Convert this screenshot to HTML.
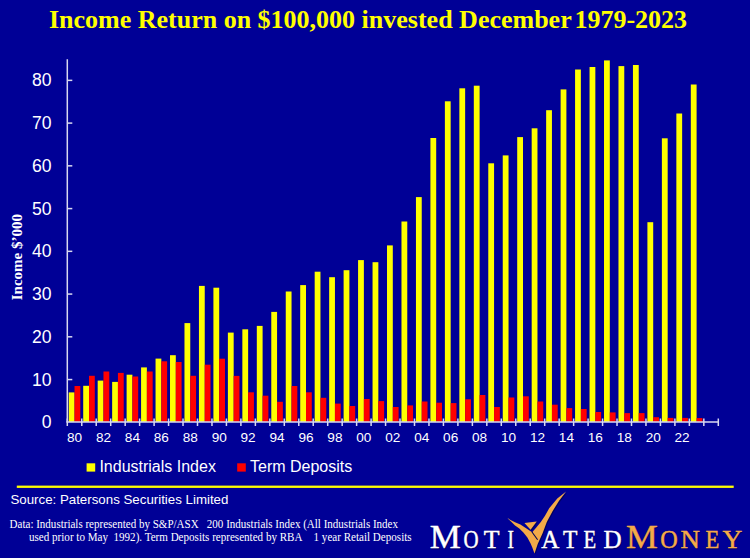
<!DOCTYPE html>
<html><head><meta charset="utf-8"><style>
html,body{margin:0;padding:0;background:#000096;}
svg{display:block;}
</style></head><body>
<svg width="750" height="558" viewBox="0 0 750 558">
<rect x="0" y="0" width="750" height="558" fill="#000096"/>
<text x="48.9" y="28.4" font-family="Liberation Serif" font-weight="bold" font-size="26" fill="#ffff00">Income Return on $100,000 invested December<tspan dx="-3.3"> 1979-2023</tspan></text>
<text transform="translate(22.2,300.3) rotate(-90)" x="0" y="0" font-family="Liberation Serif" font-weight="bold" font-size="15" fill="#ffffff">Income $&#8217;000</text>
<rect x="68.75" y="392.40" width="5.79" height="29.50" fill="#ffff00"/><rect x="74.53" y="386.00" width="5.79" height="35.90" fill="#ff0000"/><rect x="83.21" y="385.80" width="5.79" height="36.10" fill="#ffff00"/><rect x="89.00" y="375.80" width="5.79" height="46.10" fill="#ff0000"/><rect x="97.68" y="380.60" width="5.79" height="41.30" fill="#ffff00"/><rect x="103.47" y="371.50" width="5.79" height="50.40" fill="#ff0000"/><rect x="112.15" y="381.90" width="5.79" height="40.00" fill="#ffff00"/><rect x="117.93" y="372.90" width="5.79" height="49.00" fill="#ff0000"/><rect x="126.61" y="374.70" width="5.79" height="47.20" fill="#ffff00"/><rect x="132.40" y="376.50" width="5.79" height="45.40" fill="#ff0000"/><rect x="141.08" y="367.40" width="5.79" height="54.50" fill="#ffff00"/><rect x="146.87" y="371.50" width="5.79" height="50.40" fill="#ff0000"/><rect x="155.55" y="358.60" width="5.79" height="63.30" fill="#ffff00"/><rect x="161.33" y="361.30" width="5.79" height="60.60" fill="#ff0000"/><rect x="170.01" y="355.20" width="5.79" height="66.70" fill="#ffff00"/><rect x="175.80" y="362.00" width="5.79" height="59.90" fill="#ff0000"/><rect x="184.48" y="323.10" width="5.79" height="98.80" fill="#ffff00"/><rect x="190.27" y="375.80" width="5.79" height="46.10" fill="#ff0000"/><rect x="198.95" y="285.90" width="5.79" height="136.00" fill="#ffff00"/><rect x="204.73" y="364.70" width="5.79" height="57.20" fill="#ff0000"/><rect x="213.41" y="287.70" width="5.79" height="134.20" fill="#ffff00"/><rect x="219.20" y="358.70" width="5.79" height="63.20" fill="#ff0000"/><rect x="227.88" y="332.60" width="5.79" height="89.30" fill="#ffff00"/><rect x="233.67" y="375.90" width="5.79" height="46.00" fill="#ff0000"/><rect x="242.35" y="329.30" width="5.79" height="92.60" fill="#ffff00"/><rect x="248.13" y="392.30" width="5.79" height="29.60" fill="#ff0000"/><rect x="256.81" y="325.90" width="5.79" height="96.00" fill="#ffff00"/><rect x="262.60" y="395.70" width="5.79" height="26.20" fill="#ff0000"/><rect x="271.28" y="311.90" width="5.79" height="110.00" fill="#ffff00"/><rect x="277.07" y="401.80" width="5.79" height="20.10" fill="#ff0000"/><rect x="285.75" y="291.50" width="5.79" height="130.40" fill="#ffff00"/><rect x="291.53" y="386.00" width="5.79" height="35.90" fill="#ff0000"/><rect x="300.21" y="285.10" width="5.79" height="136.80" fill="#ffff00"/><rect x="306.00" y="392.30" width="5.79" height="29.60" fill="#ff0000"/><rect x="314.68" y="271.70" width="5.79" height="150.20" fill="#ffff00"/><rect x="320.47" y="397.80" width="5.79" height="24.10" fill="#ff0000"/><rect x="329.15" y="277.20" width="5.79" height="144.70" fill="#ffff00"/><rect x="334.93" y="403.60" width="5.79" height="18.30" fill="#ff0000"/><rect x="343.61" y="270.20" width="5.79" height="151.70" fill="#ffff00"/><rect x="349.40" y="406.00" width="5.79" height="15.90" fill="#ff0000"/><rect x="358.08" y="260.10" width="5.79" height="161.80" fill="#ffff00"/><rect x="363.87" y="399.00" width="5.79" height="22.90" fill="#ff0000"/><rect x="372.55" y="262.20" width="5.79" height="159.70" fill="#ffff00"/><rect x="378.33" y="401.10" width="5.79" height="20.80" fill="#ff0000"/><rect x="387.01" y="245.40" width="5.79" height="176.50" fill="#ffff00"/><rect x="392.80" y="407.00" width="5.79" height="14.90" fill="#ff0000"/><rect x="401.48" y="221.50" width="5.79" height="200.40" fill="#ffff00"/><rect x="407.27" y="405.40" width="5.79" height="16.50" fill="#ff0000"/><rect x="415.95" y="197.10" width="5.79" height="224.80" fill="#ffff00"/><rect x="421.73" y="401.50" width="5.79" height="20.40" fill="#ff0000"/><rect x="430.41" y="138.00" width="5.79" height="283.90" fill="#ffff00"/><rect x="436.20" y="402.70" width="5.79" height="19.20" fill="#ff0000"/><rect x="444.88" y="101.30" width="5.79" height="320.60" fill="#ffff00"/><rect x="450.67" y="403.10" width="5.79" height="18.80" fill="#ff0000"/><rect x="459.35" y="88.30" width="5.79" height="333.60" fill="#ffff00"/><rect x="465.13" y="399.30" width="5.79" height="22.60" fill="#ff0000"/><rect x="473.81" y="85.70" width="5.79" height="336.20" fill="#ffff00"/><rect x="479.60" y="395.00" width="5.79" height="26.90" fill="#ff0000"/><rect x="488.28" y="163.30" width="5.79" height="258.60" fill="#ffff00"/><rect x="494.07" y="407.00" width="5.79" height="14.90" fill="#ff0000"/><rect x="502.75" y="155.40" width="5.79" height="266.50" fill="#ffff00"/><rect x="508.53" y="397.50" width="5.79" height="24.40" fill="#ff0000"/><rect x="517.21" y="137.10" width="5.79" height="284.80" fill="#ffff00"/><rect x="523.00" y="396.30" width="5.79" height="25.60" fill="#ff0000"/><rect x="531.68" y="128.30" width="5.79" height="293.60" fill="#ffff00"/><rect x="537.47" y="401.50" width="5.79" height="20.40" fill="#ff0000"/><rect x="546.15" y="110.20" width="5.79" height="311.70" fill="#ffff00"/><rect x="551.93" y="404.70" width="5.79" height="17.20" fill="#ff0000"/><rect x="560.61" y="89.40" width="5.79" height="332.50" fill="#ffff00"/><rect x="566.40" y="408.10" width="5.79" height="13.80" fill="#ff0000"/><rect x="575.08" y="69.50" width="5.79" height="352.40" fill="#ffff00"/><rect x="580.87" y="409.00" width="5.79" height="12.90" fill="#ff0000"/><rect x="589.55" y="67.00" width="5.79" height="354.90" fill="#ffff00"/><rect x="595.33" y="412.00" width="5.79" height="9.90" fill="#ff0000"/><rect x="604.01" y="60.40" width="5.79" height="361.50" fill="#ffff00"/><rect x="609.80" y="412.40" width="5.79" height="9.50" fill="#ff0000"/><rect x="618.48" y="66.10" width="5.79" height="355.80" fill="#ffff00"/><rect x="624.27" y="413.10" width="5.79" height="8.80" fill="#ff0000"/><rect x="632.95" y="65.00" width="5.79" height="356.90" fill="#ffff00"/><rect x="638.73" y="413.10" width="5.79" height="8.80" fill="#ff0000"/><rect x="647.41" y="222.20" width="5.79" height="199.70" fill="#ffff00"/><rect x="653.20" y="417.20" width="5.79" height="4.70" fill="#ff0000"/><rect x="661.88" y="138.30" width="5.79" height="283.60" fill="#ffff00"/><rect x="667.67" y="417.90" width="5.79" height="4.00" fill="#ff0000"/><rect x="676.35" y="113.50" width="5.79" height="308.40" fill="#ffff00"/><rect x="682.13" y="417.90" width="5.79" height="4.00" fill="#ff0000"/><rect x="690.81" y="84.50" width="5.79" height="337.40" fill="#ffff00"/><rect x="696.60" y="418.10" width="5.79" height="3.80" fill="#ff0000"/>
<g stroke="#d8d8f0" stroke-width="1.5">
<line x1="67.3" y1="59.3" x2="67.3" y2="422.4"/>
<line x1="66.5" y1="421.9" x2="718.5" y2="421.9"/>
<line x1="67.30" y1="418.5" x2="67.30" y2="426" /><line x1="81.77" y1="418.5" x2="81.77" y2="426" /><line x1="96.23" y1="418.5" x2="96.23" y2="426" /><line x1="110.70" y1="418.5" x2="110.70" y2="426" /><line x1="125.17" y1="418.5" x2="125.17" y2="426" /><line x1="139.63" y1="418.5" x2="139.63" y2="426" /><line x1="154.10" y1="418.5" x2="154.10" y2="426" /><line x1="168.57" y1="418.5" x2="168.57" y2="426" /><line x1="183.03" y1="418.5" x2="183.03" y2="426" /><line x1="197.50" y1="418.5" x2="197.50" y2="426" /><line x1="211.97" y1="418.5" x2="211.97" y2="426" /><line x1="226.43" y1="418.5" x2="226.43" y2="426" /><line x1="240.90" y1="418.5" x2="240.90" y2="426" /><line x1="255.37" y1="418.5" x2="255.37" y2="426" /><line x1="269.83" y1="418.5" x2="269.83" y2="426" /><line x1="284.30" y1="418.5" x2="284.30" y2="426" /><line x1="298.77" y1="418.5" x2="298.77" y2="426" /><line x1="313.23" y1="418.5" x2="313.23" y2="426" /><line x1="327.70" y1="418.5" x2="327.70" y2="426" /><line x1="342.17" y1="418.5" x2="342.17" y2="426" /><line x1="356.63" y1="418.5" x2="356.63" y2="426" /><line x1="371.10" y1="418.5" x2="371.10" y2="426" /><line x1="385.57" y1="418.5" x2="385.57" y2="426" /><line x1="400.03" y1="418.5" x2="400.03" y2="426" /><line x1="414.50" y1="418.5" x2="414.50" y2="426" /><line x1="428.97" y1="418.5" x2="428.97" y2="426" /><line x1="443.43" y1="418.5" x2="443.43" y2="426" /><line x1="457.90" y1="418.5" x2="457.90" y2="426" /><line x1="472.37" y1="418.5" x2="472.37" y2="426" /><line x1="486.83" y1="418.5" x2="486.83" y2="426" /><line x1="501.30" y1="418.5" x2="501.30" y2="426" /><line x1="515.77" y1="418.5" x2="515.77" y2="426" /><line x1="530.23" y1="418.5" x2="530.23" y2="426" /><line x1="544.70" y1="418.5" x2="544.70" y2="426" /><line x1="559.17" y1="418.5" x2="559.17" y2="426" /><line x1="573.63" y1="418.5" x2="573.63" y2="426" /><line x1="588.10" y1="418.5" x2="588.10" y2="426" /><line x1="602.57" y1="418.5" x2="602.57" y2="426" /><line x1="617.03" y1="418.5" x2="617.03" y2="426" /><line x1="631.50" y1="418.5" x2="631.50" y2="426" /><line x1="645.97" y1="418.5" x2="645.97" y2="426" /><line x1="660.43" y1="418.5" x2="660.43" y2="426" /><line x1="674.90" y1="418.5" x2="674.90" y2="426" /><line x1="689.37" y1="418.5" x2="689.37" y2="426" /><line x1="703.83" y1="418.5" x2="703.83" y2="426" /><line x1="718.30" y1="418.5" x2="718.30" y2="426" /><line x1="67.3" y1="379.56" x2="72.3" y2="379.56" /><line x1="67.3" y1="336.81" x2="72.3" y2="336.81" /><line x1="67.3" y1="294.07" x2="72.3" y2="294.07" /><line x1="67.3" y1="251.33" x2="72.3" y2="251.33" /><line x1="67.3" y1="208.59" x2="72.3" y2="208.59" /><line x1="67.3" y1="165.84" x2="72.3" y2="165.84" /><line x1="67.3" y1="123.10" x2="72.3" y2="123.10" /><line x1="67.3" y1="80.36" x2="72.3" y2="80.36" />
</g>
<g font-family="Liberation Sans" font-size="17.6" fill="#ffffff"><text x="51.6" y="428.40" text-anchor="end">0</text><text x="51.6" y="385.66" text-anchor="end">10</text><text x="51.6" y="342.91" text-anchor="end">20</text><text x="51.6" y="300.17" text-anchor="end">30</text><text x="51.6" y="257.43" text-anchor="end">40</text><text x="51.6" y="214.69" text-anchor="end">50</text><text x="51.6" y="171.94" text-anchor="end">60</text><text x="51.6" y="129.20" text-anchor="end">70</text><text x="51.6" y="86.46" text-anchor="end">80</text></g>
<g font-family="Liberation Sans" font-size="13.6" fill="#ffffff"><text x="74.53" y="442.1" text-anchor="middle">80</text><text x="103.47" y="442.1" text-anchor="middle">82</text><text x="132.40" y="442.1" text-anchor="middle">84</text><text x="161.33" y="442.1" text-anchor="middle">86</text><text x="190.27" y="442.1" text-anchor="middle">88</text><text x="219.20" y="442.1" text-anchor="middle">90</text><text x="248.13" y="442.1" text-anchor="middle">92</text><text x="277.07" y="442.1" text-anchor="middle">94</text><text x="306.00" y="442.1" text-anchor="middle">96</text><text x="334.93" y="442.1" text-anchor="middle">98</text><text x="363.87" y="442.1" text-anchor="middle">00</text><text x="392.80" y="442.1" text-anchor="middle">02</text><text x="421.73" y="442.1" text-anchor="middle">04</text><text x="450.67" y="442.1" text-anchor="middle">06</text><text x="479.60" y="442.1" text-anchor="middle">08</text><text x="508.53" y="442.1" text-anchor="middle">10</text><text x="537.47" y="442.1" text-anchor="middle">12</text><text x="566.40" y="442.1" text-anchor="middle">14</text><text x="595.33" y="442.1" text-anchor="middle">16</text><text x="624.27" y="442.1" text-anchor="middle">18</text><text x="653.20" y="442.1" text-anchor="middle">20</text><text x="682.13" y="442.1" text-anchor="middle">22</text></g>
<rect x="86.6" y="463.3" width="8.6" height="8.3" fill="#ffff00"/>
<text x="99.4" y="471.6" font-family="Liberation Sans" font-size="16" fill="#ffffff">Industrials Index</text>
<rect x="237.2" y="463.3" width="8.6" height="8.3" fill="#ff0000"/>
<text x="250" y="471.6" font-family="Liberation Sans" font-size="16" fill="#ffffff">Term Deposits</text>
<rect x="16.8" y="485.6" width="716.9" height="2.3" fill="#ffff00"/>
<text x="10.4" y="503.7" font-family="Liberation Sans" font-size="13.3" fill="#ffffff">Source: Patersons Securities Limited</text>
<g font-family="Liberation Serif" font-size="12" fill="#ffffff">
<text x="9.6" y="527.7" textLength="388.4" lengthAdjust="spacingAndGlyphs">Data: Industrials represented by S&amp;P/ASX&#160;&#160; 200 Industrials Index (All Industrials Index</text>
<text x="29.0" y="540.5" textLength="382.6" lengthAdjust="spacingAndGlyphs">used prior to May&#160; 1992). Term Deposits represented by RBA&#160;&#160;&#160; 1 year Retail Deposits</text>
</g>
<g font-family="Liberation Serif" fill="#000040" opacity="0.6"><text transform="translate(430.75,548.60) scale(1.046,1)" font-size="33.4" stroke="#000040" stroke-width="0.45">M</text><text transform="translate(464.56,548.60) scale(0.821,1)" font-size="25.5" stroke="#000040" stroke-width="0.45">O</text><text transform="translate(484.68,548.60) scale(1.014,1)" font-size="25.5" stroke="#000040" stroke-width="0.45">T</text><text transform="translate(508.43,548.60) scale(0.754,1)" font-size="25.5" stroke="#000040" stroke-width="0.45">I</text><text transform="translate(542.25,548.60) scale(0.978,1)" font-size="25.5" stroke="#000040" stroke-width="0.45">A</text><text transform="translate(564.03,548.60) scale(0.926,1)" font-size="25.5" stroke="#000040" stroke-width="0.45">T</text><text transform="translate(584.58,548.60) scale(0.814,1)" font-size="25.5" stroke="#000040" stroke-width="0.45">E</text><text transform="translate(604.45,548.60) scale(0.983,1)" font-size="25.5" stroke="#000040" stroke-width="0.45">D</text><text transform="translate(627.03,548.60) scale(1.071,1)" font-size="33.4" stroke="#000040" stroke-width="0.45">M</text><text transform="translate(661.23,548.60) scale(0.950,1)" font-size="25.5" stroke="#000040" stroke-width="0.45">O</text><text transform="translate(681.39,548.60) scale(1.054,1)" font-size="25.5" stroke="#000040" stroke-width="0.45">N</text><text transform="translate(706.62,548.60) scale(0.888,1)" font-size="25.5" stroke="#000040" stroke-width="0.45">E</text><text transform="translate(723.53,548.60) scale(1.074,1)" font-size="25.5" stroke="#000040" stroke-width="0.45">Y</text></g>
<g font-family="Liberation Serif"><text transform="translate(429.75,547.60) scale(1.046,1)" font-size="33.4" fill="#ffffff" stroke="#ffffff" stroke-width="0.45">M</text><text transform="translate(463.56,547.60) scale(0.821,1)" font-size="25.5" fill="#ffffff" stroke="#ffffff" stroke-width="0.45">O</text><text transform="translate(483.68,547.60) scale(1.014,1)" font-size="25.5" fill="#ffffff" stroke="#ffffff" stroke-width="0.45">T</text><text transform="translate(507.43,547.60) scale(0.754,1)" font-size="25.5" fill="#ffffff" stroke="#ffffff" stroke-width="0.45">I</text><text transform="translate(541.25,547.60) scale(0.978,1)" font-size="25.5" fill="#ffffff" stroke="#ffffff" stroke-width="0.45">A</text><text transform="translate(563.03,547.60) scale(0.926,1)" font-size="25.5" fill="#ffffff" stroke="#ffffff" stroke-width="0.45">T</text><text transform="translate(583.58,547.60) scale(0.814,1)" font-size="25.5" fill="#ffffff" stroke="#ffffff" stroke-width="0.45">E</text><text transform="translate(603.45,547.60) scale(0.983,1)" font-size="25.5" fill="#ffffff" stroke="#ffffff" stroke-width="0.45">D</text><text transform="translate(626.03,547.60) scale(1.071,1)" font-size="33.4" fill="#f3aa48" stroke="#f3aa48" stroke-width="0.45">M</text><text transform="translate(660.23,547.60) scale(0.950,1)" font-size="25.5" fill="#f3aa48" stroke="#f3aa48" stroke-width="0.45">O</text><text transform="translate(680.39,547.60) scale(1.054,1)" font-size="25.5" fill="#f3aa48" stroke="#f3aa48" stroke-width="0.45">N</text><text transform="translate(705.62,547.60) scale(0.888,1)" font-size="25.5" fill="#f3aa48" stroke="#f3aa48" stroke-width="0.45">E</text><text transform="translate(722.53,547.60) scale(1.074,1)" font-size="25.5" fill="#f3aa48" stroke="#f3aa48" stroke-width="0.45">Y</text></g>
<g transform="translate(1,1)" fill="#000040" opacity="0.6"><polygon points="566.10,491.60 558.90,500.90 552.40,511.40 546.80,521.90 542.70,533.00 537.70,543.90 534.50,553.50 532.30,547.50 530.59,543.49 527.37,537.58 523.60,532.74 519.30,528.44 515.00,525.48 511.00,521.60 507.40,518.10 511.00,520.20 515.00,522.26 520.38,524.41 525.75,527.90 530.59,531.13 532.20,532.30 536.50,527.37 540.80,522.00 545.00,515.80 549.20,508.20 557.30,498.50"/><polygon points="524.41,523.06 536.77,521.45 530.59,529.78"/></g>
<polygon points="566.10,491.60 558.90,500.90 552.40,511.40 546.80,521.90 542.70,533.00 537.70,543.90 534.50,553.50 532.30,547.50 530.59,543.49 527.37,537.58 523.60,532.74 519.30,528.44 515.00,525.48 511.00,521.60 507.40,518.10 511.00,520.20 515.00,522.26 520.38,524.41 525.75,527.90 530.59,531.13 532.20,532.30 536.50,527.37 540.80,522.00 545.00,515.80 549.20,508.20 557.30,498.50" fill="#f3aa48"/><polygon points="524.41,523.06 536.77,521.45 530.59,529.78" fill="#f3aa48"/><line x1="531.8" y1="531.8" x2="537.6" y2="539.8" stroke="#000050" stroke-width="1.1"/>
</svg>
</body></html>
